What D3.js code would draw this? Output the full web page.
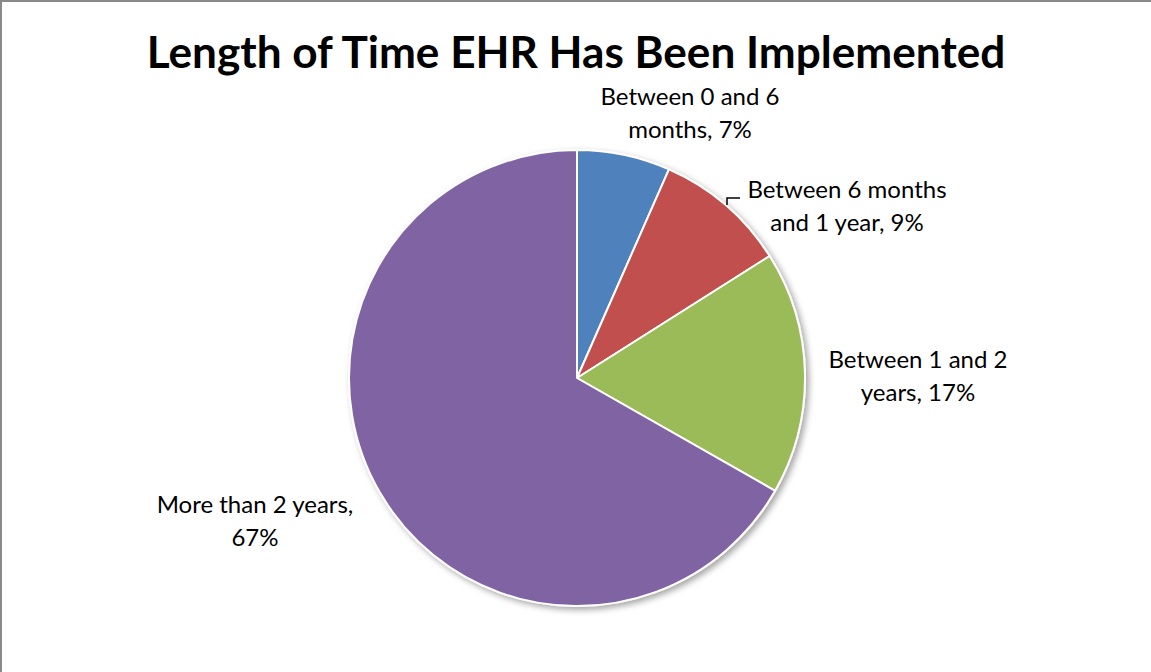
<!DOCTYPE html>
<html>
<head>
<meta charset="utf-8">
<script src="https://cdn.jsdelivr.net/npm/d3@7"></script>
<style>
  html, body { margin: 0; padding: 0; background: #fff; }
  svg { display: block; }
  text { font-family: Lato, "Open Sans", sans-serif; fill: #000; }
</style>
</head>
<body>
<svg id="chart" width="1151" height="672"></svg>
<script>
// data
const categories = ["Between 0 and 6 months", "Between 6 months and 1 year", "Between 1 and 2 years", "More than 2 years"];
const values = [6.6, 9.4, 17.2, 66.7];
const colors = ["#4F81BD", "#C0504D", "#9BBB59", "#8064A2"];
const labelLines = [
  ["Between 0 and 6", "months, 7%"],
  ["Between 6 months", "and 1 year, 9%"],
  ["Between 1 and 2", "years, 17%"],
  ["More than 2 years,", "67%"]
];

const W = 1151, H = 672;
const cx = 577, cy = 378, R = 228;
// label block centres (layout only)
const labelAt = [[690, 97], [847, 190], [918, 360], [255, 505]];

const svg = d3.select("#chart");

// frame (top + left edge visible)
svg.append("line").attr("x1", 0).attr("y1", 1).attr("x2", W).attr("y2", 1)
  .attr("stroke", "#8a8a8a").attr("stroke-width", 2);
svg.append("line").attr("x1", 1).attr("y1", 0).attr("x2", 1).attr("y2", H)
  .attr("stroke", "#8a8a8a").attr("stroke-width", 2);

const defs = svg.append("defs");
const f = defs.append("filter").attr("id", "shadow")
  .attr("x", "-10%").attr("y", "-10%").attr("width", "130%").attr("height", "130%");
f.append("feDropShadow").attr("dx", 3).attr("dy", 3).attr("stdDeviation", 3)
  .attr("flood-color", "#000").attr("flood-opacity", 0.35);

// fit text to a target width
function fitText(sel, target) {
  const n = sel.node();
  const fs = parseFloat(sel.attr("font-size"));
  const w = n.getComputedTextLength();
  sel.attr("font-size", fs * target / w);
}

const title = svg.append("text")
  .attr("x", 576).attr("y", 68)
  .attr("text-anchor", "middle")
  .attr("font-weight", "bold")
  .attr("font-size", 40)
  .text("Length of Time EHR Has Been Implemented");
fitText(title, 859);

const pie = d3.pie().sort(null).value(d => d);
const arcs = pie(values);
const arc = d3.arc().innerRadius(0).outerRadius(R);

const g = svg.append("g").attr("transform", `translate(${cx},${cy})`);

g.append("g").attr("filter", "url(#shadow)")
  .selectAll("path")
  .data(arcs)
  .join("path")
  .attr("d", arc)
  .attr("fill", (d, i) => colors[i])
  .attr("stroke", "#fff")
  .attr("stroke-width", 2)
  .attr("stroke-linejoin", "round");

// labels
const fsLabel = 24;
labelLines.forEach((lines, i) => {
  const t = svg.append("text")
    .attr("text-anchor", "middle")
    .attr("font-size", fsLabel);
  lines.forEach((s, j) => {
    t.append("tspan")
      .attr("x", labelAt[i][0])
      .attr("y", labelAt[i][1] + j * 33 + 8)
      .text(s);
  });
});

// leader line for the small red slice
svg.append("path")
  .attr("d", "M727,205V198H740")
  .attr("fill", "none")
  .attr("stroke", "#000")
  .attr("stroke-width", 1.5);
</script>
</body>
</html>
